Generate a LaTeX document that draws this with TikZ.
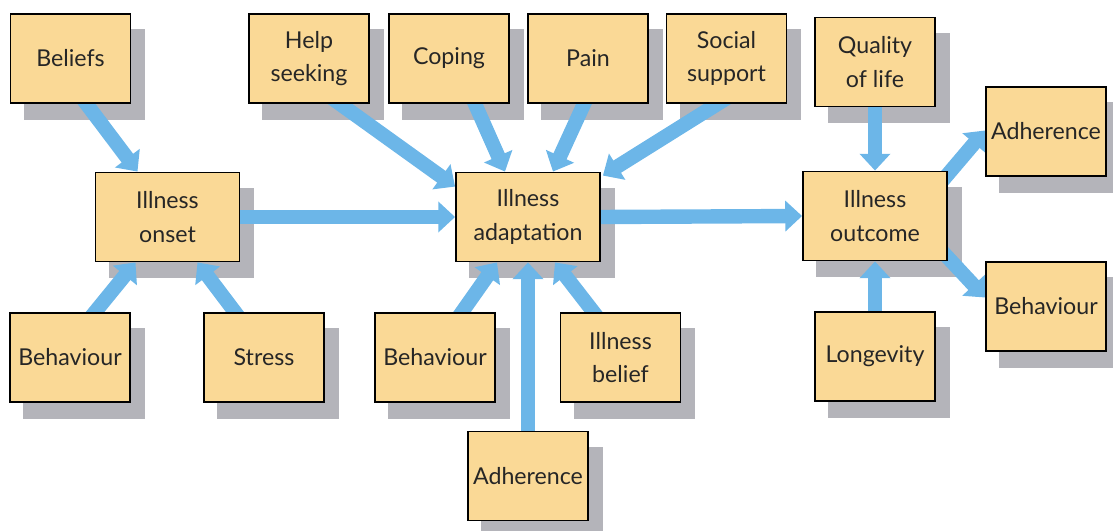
\documentclass[tikz,border=0pt]{standalone}
\usepackage{fontspec}
\setmainfont{Lato}
\usepackage{tikz}
\usetikzlibrary{positioning,calc,arrows.meta}
\definecolor{BoxTan}{RGB}{250,217,150}
\definecolor{FlowBlue}{RGB}{108,182,232}
\definecolor{ShadeGrey}{RGB}{180,180,186}
\pgfdeclarelayer{shade}
\pgfdeclarelayer{flows}
\pgfsetlayers{shade,flows,main}

\begin{document}
\begin{tikzpicture}[
                x=0.025cm, y=-0.025cm,
                % Định nghĩa các hộp
                box/.style={draw=black, line width=1.3pt, fill=BoxTan, align=center,
                    minimum width=3cm, minimum height=2.225cm, inner sep=2pt,
                    font=\fontsize{16.5}{24}\selectfont, text=black!85},
                mainbox/.style={box, minimum width=3.6cm},
                flow/.style={-{Triangle[width=0.75cm, length=0.42cm]}, draw=FlowBlue,
                    line width=0.36cm, shorten <=-0.3cm}
            ]
                \useasboundingbox (0,0) rectangle (1113,531);
                % Row 1
                \node[box] (beliefs) at (70.5,58.5) {Beliefs};
                \node[box] (help) at (309,58.5) {Help\\seeking};
                \node[box] (coping) at (449,58.5) {Coping};
                \node[box] (pain) at (588,58.5) {Pain};
                \node[box] (social) at (726.5,58.5) {Social\\support};
                \node[box] (quality) at (875,62) {Quality\\of life};
                \node[box] (adhR) at (1046,131.5) {Adherence};
                % Row 2
                \node[mainbox] (onset) at (167.5,217) {Illness\\onset};
                \node[mainbox] (adapt) at (528,217) {Illness\\adaptation};
                \node[mainbox] (outcome) at (875,216) {Illness\\outcome};
                \node[box] (behR) at (1046,306.5) {Behaviour};
                % Row 3
                \node[box] (beh1) at (70,357.5) {Behaviour};
                \node[box] (stress) at (264,357.5) {Stress};
                \node[box] (beh2) at (435,357.5) {Behaviour};
                \node[box] (belief) at (620.5,357.5) {Illness\\belief};
                \node[box] (longev) at (875,356.5) {Longevity};
                % Row 4
                \node[box] (adhB) at (528,476) {Adherence};

                % Shadows
                \begin{pgfonlayer}{shade}
                \foreach \n in {beliefs,help,coping,pain,social,quality,adhR,onset,adapt,
                    outcome,behR,beh1,stress,beh2,belief,longev,adhB}
                    \fill[ShadeGrey] ($(\n.south west)+(14,16)$) rectangle ($(\n.north east)+(14,16)$);
                \end{pgfonlayer}

                % Connectors
                \begin{pgfonlayer}{flows}
                \draw[flow] ($(beliefs.south)+(16,0)$) -- ($(onset.north)+(-30,0)$);
                \draw[flow] ($(beh1.north)+(25,0)$) -- ($(onset.south)+(-32,0)$);
                \draw[flow] ($(stress.north)+(-29,0)$) -- ($(onset.south)+(30,0)$);
                \draw[flow] (onset.east) -- (adapt.west);
                \draw[flow] ($(help.south)+(31,0)$) -- ($(adapt.north west)+(0,15)$);
                \draw[flow] ($(coping.south)+(26,0)$) -- ($(adapt.north)+(-23,0)$);
                \draw[flow] ($(pain.south)+(-4,0)$) -- ($(adapt.north)+(25,0)$);
                \draw[flow] ($(social.south)+(-9,0)$) -- ($(adapt.north east)+(2,4)$);
                \draw[flow] ($(beh2.north)+(27,0)$) -- ($(adapt.south)+(-31,0)$);
                \draw[flow] (adhB.north) -- (adapt.south);
                \draw[flow] ($(belief.north)+(-27,0)$) -- ($(adapt.south)+(27,0)$);
                \draw[flow] (adapt.east) -- (outcome.west);
                \draw[flow] (quality.south) -- (outcome.north);
                \draw[flow] (longev.north) -- (outcome.south);
                \draw[flow] ($(outcome.north east)+(-2,6)$) -- ($(adhR.west)+(0,-1)$);
                \draw[flow] ($(outcome.south east)+(-2,-6)$) -- ($(behR.west)+(0,-9)$);
                \end{pgfonlayer}

            \end{tikzpicture}
\end{document}
